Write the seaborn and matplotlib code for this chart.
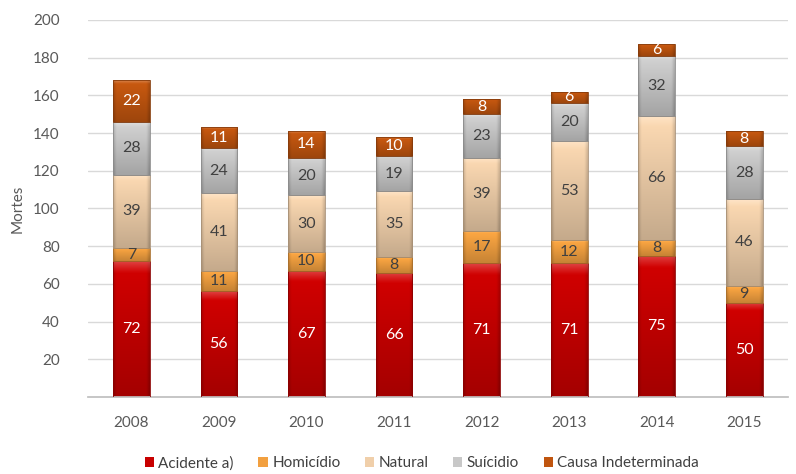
import numpy as np
import pandas as pd
import seaborn as sns
import matplotlib.pyplot as plt
import matplotlib.colors as mcolors
from matplotlib.patches import Patch

years = ['2008', '2009', '2010', '2011', '2012', '2013', '2014', '2015']
causes = ['Acidente a)', 'Homicídio', 'Natural', 'Suícidio', 'Causa Indeterminada']
acidente = [72, 56, 67, 66, 71, 71, 75, 50]
homicidio = [7, 11, 10, 8, 17, 12, 8, 9]
natural = [39, 41, 30, 35, 39, 53, 66, 46]
suicidio = [28, 24, 20, 19, 23, 20, 32, 28]
indeterminada = [22, 11, 14, 10, 8, 6, 6, 8]

colors = ['#C80000', '#F2A040', '#F0CFAA', '#C8C8C8', '#C0550F']
text_colors = ['white', '#404040', '#404040', '#404040', 'white']

series = [acidente, homicidio, natural, suicidio, indeterminada]
df = pd.DataFrame({'ano': years})
for c, s in zip(causes, series):
    df[c] = s

sns.set_theme(style='white')
plt.rcParams['font.family'] = ['Lato', 'DejaVu Sans']

fig = plt.figure(figsize=(7.96, 4.74), dpi=100)
ax = fig.add_axes([0.11, 0.1625, 0.88, 0.7955])

bottom = np.zeros(len(years))
for i, c in enumerate(causes):
    n0 = len(ax.patches)
    sns.barplot(data=df, x='ano', y=c, order=years, color=colors[i],
                bottom=bottom.copy(), width=0.42, ax=ax, saturation=1,
                edgecolor='none', linewidth=0)
    new = ax.patches[n0:]
    base = np.array(mcolors.to_rgb(colors[i]))
    for p, v in zip(new, df[c]):
        x0, y0 = p.get_x(), p.get_y()
        w, h = p.get_width(), p.get_height()
        # bevelled gradient fill clipped to each bar segment
        yy = np.linspace(0, 1, 80)[:, None]
        xx = np.linspace(0, 1, 30)[None, :]
        shade = 1.06 - 0.24 * yy
        edge = np.minimum(xx, 1 - xx)
        shade = shade - 0.15 * np.clip(0.08 - edge, 0, None) / 0.08
        img = base[None, None, :] * shade[:, :, None]
        top = np.clip(1 - yy * 12, 0, 1)[:, :, None]
        img = np.clip(img + 0.25 * top * (1 - img), 0, 1)
        im = ax.imshow(img, extent=[x0, x0 + w, y0, y0 + h], origin='upper',
                       aspect='auto', zorder=2, interpolation='bilinear')
        im.set_clip_path(p)
        ax.add_patch(plt.Rectangle((x0, y0), w, h, fill=False,
                                   edgecolor=tuple(base * 0.7), linewidth=0.6,
                                   zorder=3))
        ax.text(x0 + w / 2, y0 + h / 2, str(v), ha='center', va='center',
                color=text_colors[i], fontsize=11.5, zorder=4)
    bottom += np.array(df[c])

ax.set_xlim(-0.5, len(years) - 0.5)
ax.set_ylim(0, 200)
ax.set_yticks(range(20, 201, 20))
ax.yaxis.grid(True, color='#D9D9D9', linewidth=1)
ax.set_axisbelow(True)
for s in ['left', 'right', 'top']:
    ax.spines[s].set_visible(False)
ax.spines['bottom'].set_color('#BFBFBF')
ax.tick_params(axis='both', colors='#595959', labelsize=11, length=0)
ax.tick_params(axis='x', pad=14)
ax.tick_params(axis='y', pad=20)
ax.set_xlabel('')
ax.set_ylabel('Mortes', color='#595959', fontsize=11, labelpad=6)

handles = [Patch(facecolor=col, edgecolor='none') for col in colors]
fig.legend(handles, causes, loc='center', bbox_to_anchor=(0.53, 0.023),
           ncol=5, frameon=False, fontsize=11, handlelength=0.6,
           handleheight=0.6, handletextpad=0.3, columnspacing=1.6,
           labelcolor='#404040')

fig.savefig('out.png', dpi=100)
